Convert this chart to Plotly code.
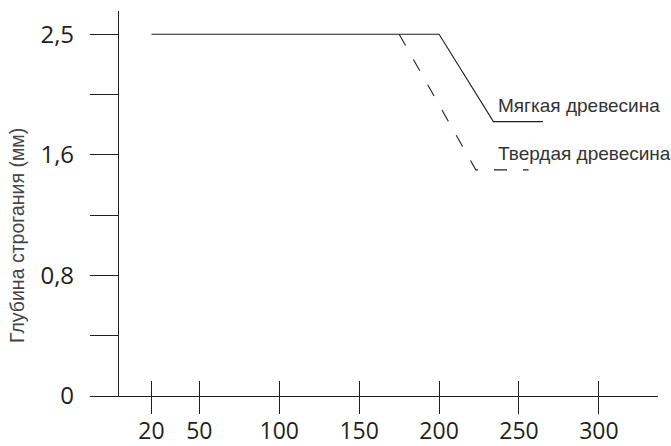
import plotly.graph_objects as go

# speed points (x) and planing depth (y, axis units; top tick "2,5" sits at 2.4)
soft_x = [20, 200, 234, 265]
soft_y = [2.4, 2.4, 1.82, 1.82]
hard_x = [175, 223, 256]
hard_y = [2.4, 1.5, 1.5]

x_ticks = [20, 50, 100, 150, 200, 250, 300]
y_ticks = [0, 0.4, 0.8, 1.2, 1.6, 2.0, 2.4]
y_text = ["0", "", "0,8", "", "1,6", "", "2,5"]

ink = "#231f20"

fig = go.Figure()
fig.add_trace(go.Scatter(x=hard_x, y=hard_y, mode="lines",
                         line=dict(color=ink, width=1.1, dash="13px,16px"),
                         showlegend=False, hoverinfo="skip"))
fig.add_trace(go.Scatter(x=soft_x, y=soft_y, mode="lines",
                         line=dict(color=ink, width=1.1),
                         showlegend=False, hoverinfo="skip"))
# dummy trace so the overlay axis (upper half of the x ticks) is drawn
fig.add_trace(go.Scatter(x=[None], y=[None], xaxis="x2", showlegend=False))

lab_font = dict(size=19, color="#333", family="Liberation Sans")
fig.add_annotation(x=235.5, y=1.93, text="Мягкая древесина", showarrow=False,
                   xanchor="left", font=lab_font)
fig.add_annotation(x=235.5, y=1.61, text="Твердая древесина", showarrow=False,
                   xanchor="left", font=lab_font)
fig.add_annotation(xref="paper", yref="paper", x=-0.1325, y=0.4156, text="Глубина строгания (мм)",
                   textangle=-90, showarrow=False, xanchor="center", yanchor="middle",
                   font=dict(size=19.5, color="#444", family="Liberation Sans"))

fig.update_layout(
    width=671, height=446,
    margin=dict(l=92, r=13, t=11, b=50),
    plot_bgcolor="white", paper_bgcolor="white",
    font=dict(family="Open Sans", size=24, color=ink),
    xaxis=dict(range=[-17.2, 337], tickvals=x_ticks, showgrid=False, zeroline=False,
               showline=True, linecolor=ink, linewidth=1.3, automargin=False,
               ticks="outside", ticklen=17, tickwidth=1.3, tickcolor=ink,
               tickfont=dict(size=23), ticklabelstandoff=-3),
    xaxis2=dict(range=[-17.2, 337], overlaying="x", anchor="y", side="bottom",
                tickvals=x_ticks, showticklabels=False, showgrid=False, zeroline=False,
                ticks="inside", ticklen=15, tickwidth=1.3, tickcolor=ink, automargin=False),
    yaxis=dict(range=[0, 2.554], tickvals=y_ticks, ticktext=y_text, showgrid=False,
               zeroline=False, anchor="free", position=0.046, automargin=False,
               showline=True, linecolor=ink, linewidth=1.3,
               ticks="outside", ticklen=28, tickwidth=1.3, tickcolor=ink,
               ticklabelstandoff=11),
)

# drop the default 8px body margin so the figure fills the window exactly
fig.write_html("out.html", config={"displayModeBar": False},
               post_script="document.body.style.margin='0';")
